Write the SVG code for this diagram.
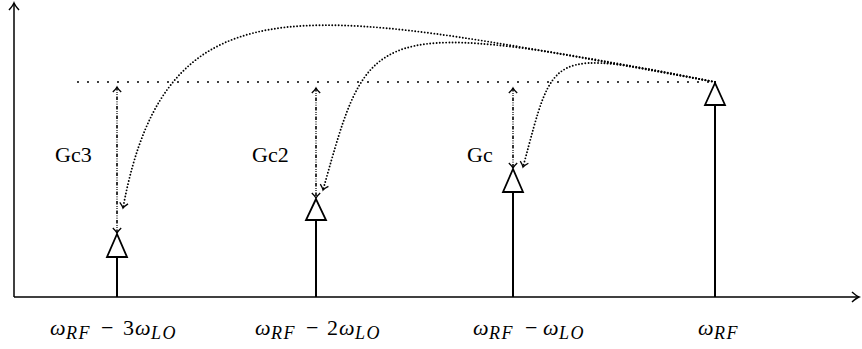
<svg xmlns="http://www.w3.org/2000/svg" width="862" height="349" viewBox="0 0 862 349">
<style>
.axis{stroke:#000;stroke-width:1.5;fill:none}
.stem{stroke:#000;stroke-width:2;fill:none}
.tri{stroke:#000;stroke-width:1.8;fill:#fff;stroke-linejoin:miter}
.hdot{stroke:#000;stroke-width:2;fill:none;stroke-dasharray:0 10;stroke-linecap:round}
.curve{stroke:#000;stroke-width:1.9;fill:none;stroke-dasharray:0 3.2;stroke-linecap:round}
.dd{stroke:#000;stroke-width:1.6;fill:none;stroke-dasharray:3.5 1.4 0.9 1.4 0.9 1.4}
.lbl{font-family:"Liberation Serif","DejaVu Serif",serif;font-size:22px;fill:#000}
.m{font-family:"Liberation Serif","DejaVu Serif",serif;font-size:22px;fill:#000}
.it{font-style:italic}
.sub{font-style:italic;font-size:18px;letter-spacing:1.5px}
</style>
<defs>
<marker id="chev" markerUnits="userSpaceOnUse" markerWidth="14" markerHeight="14" viewBox="-10 -7 14 14" refX="0" refY="0" orient="auto-start-reverse">
<path d="M-5,-4.2 Q-2,-1 0,0 Q-2,1 -5,4.2" fill="none" stroke="#000" stroke-width="1.3"/>
</marker>
<marker id="axarr" markerUnits="userSpaceOnUse" markerWidth="16" markerHeight="16" viewBox="-12 -8 16 16" refX="0" refY="0" orient="auto">
<path d="M-7,-5 Q-2.5,-1 0,0 Q-2.5,1 -7,5" fill="none" stroke="#000" stroke-width="1.5"/>
</marker>
</defs>

<g id="axes">
<line class="axis" x1="14" y1="297" x2="14" y2="3" marker-end="url(#axarr)"/>
<line class="axis" x1="14" y1="297" x2="859" y2="297" marker-end="url(#axarr)"/>
</g>

<g id="level">
<line class="hdot" x1="78" y1="82" x2="716" y2="82"/>
</g>

<g id="connectors">
<path class="curve" d="M715,82 C315,10 168,-34 123,208" marker-end="url(#chev)"/>
<path class="curve" d="M715,82 C365,14 370,24 323,190" marker-end="url(#chev)"/>
<path class="curve" d="M715,82 C545,48 555,50 523,167" marker-end="url(#chev)"/>
<line class="dd" x1="117" y1="87" x2="117" y2="233" marker-start="url(#chev)" marker-end="url(#chev)"/>
<line class="dd" x1="316" y1="88" x2="316" y2="198" marker-start="url(#chev)" marker-end="url(#chev)"/>
<line class="dd" x1="513" y1="88" x2="513" y2="168" marker-start="url(#chev)" marker-end="url(#chev)"/>
</g>

<g id="tone3">
<line class="stem" x1="117" y1="297" x2="117" y2="257"/>
<polygon class="tri" points="117,234 107,257 127,257"/>
</g>
<g id="tone2">
<line class="stem" x1="316" y1="297" x2="316" y2="220"/>
<polygon class="tri" points="316,199 306,220 326,220"/>
</g>
<g id="tone1">
<line class="stem" x1="513" y1="297" x2="513" y2="192"/>
<polygon class="tri" points="513,169 503,192 523,192"/>
</g>
<g id="toneRF">
<line class="stem" x1="715" y1="297" x2="715" y2="105"/>
<polygon class="tri" points="715,83 705,105 725,105"/>
</g>

<g id="gain-labels">
<text class="lbl" x="55" y="162">Gc3</text>
<text class="lbl" x="252" y="162">Gc2</text>
<text class="lbl" x="467" y="162">Gc</text>
</g>

<g id="freq-labels">
<text class="m" y="335"><tspan class="it" x="50">ω</tspan><tspan class="sub" x="66" dy="4">RF</tspan><tspan x="101" dy="-4">−</tspan><tspan x="123">3</tspan><tspan class="it" x="135">ω</tspan><tspan class="sub" x="151" dy="4">LO</tspan></text>
<text class="m" y="335"><tspan class="it" x="255">ω</tspan><tspan class="sub" x="271" dy="4">RF</tspan><tspan x="306" dy="-4">−</tspan><tspan x="327">2</tspan><tspan class="it" x="339">ω</tspan><tspan class="sub" x="355" dy="4">LO</tspan></text>
<text class="m" y="335"><tspan class="it" x="473">ω</tspan><tspan class="sub" x="489" dy="4">RF</tspan><tspan x="525" dy="-4">−</tspan><tspan class="it" x="543">ω</tspan><tspan class="sub" x="559" dy="4">LO</tspan></text>
<text class="m" y="335"><tspan class="it" x="698">ω</tspan><tspan class="sub" x="714" dy="4">RF</tspan></text>
</g>
</svg>
